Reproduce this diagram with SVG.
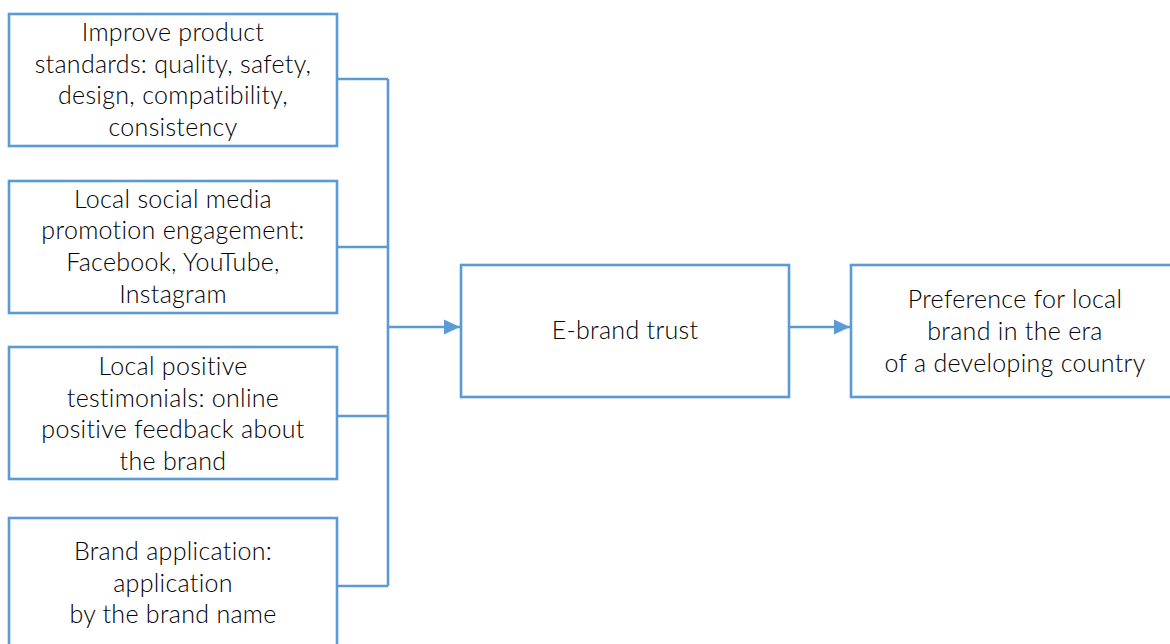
<svg xmlns="http://www.w3.org/2000/svg" width="1170" height="644" viewBox="0 0 1170 644">
<style>
.box{fill:#fff;stroke:#5B9BD5;stroke-width:2.6}
.ln{fill:none;stroke:#5B9BD5;stroke-width:2.6}
text{font-family:Lato,"Open Sans","Liberation Sans",sans-serif;font-weight:300;font-size:25px;letter-spacing:0.3px;fill:#000;text-anchor:middle}
</style>
<defs>
<marker id="ah" markerUnits="userSpaceOnUse" markerWidth="16" markerHeight="16" viewBox="0 0 16 16" refX="16" refY="8" orient="auto">
<path d="M0,0.5 L16,8 L0,15.5 Z" fill="#5B9BD5"/>
</marker>
</defs>
<rect width="1170" height="644" fill="#fff"/>
<g id="connectors">
<path class="ln" d="M337,79 H388 M337,247 H388 M337,416 H388 M337,586 H388 M388,79 V586"/>
<path class="ln" d="M388,327 H460" marker-end="url(#ah)"/>
<path class="ln" d="M789,327 H850" marker-end="url(#ah)"/>
</g>
<g id="n1">
<rect class="box" x="9" y="14" width="328" height="132"/>
<text x="173" y="41">Improve product</text>
<text x="173" y="72.5">standards: quality, safety,</text>
<text x="173" y="104">design, compatibility,</text>
<text x="173" y="135.5">consistency</text>
</g>
<g id="n2">
<rect class="box" x="9" y="181" width="328" height="132"/>
<text x="173" y="207.5">Local social media</text>
<text x="173" y="239">promotion engagement:</text>
<text x="173" y="271">Facebook, YouTube,</text>
<text x="173" y="303">Instagram</text>
</g>
<g id="n3">
<rect class="box" x="9" y="347" width="328" height="132"/>
<text x="173" y="375">Local positive</text>
<text x="173" y="406.5">testimonials: online</text>
<text x="173" y="438">positive feedback about</text>
<text x="173" y="470">the brand</text>
</g>
<g id="n4">
<rect class="box" x="9" y="518" width="328" height="140"/>
<text x="173" y="560">Brand application:</text>
<text x="173" y="591.5">application</text>
<text x="173" y="623">by the brand name</text>
</g>
<g id="n5">
<rect class="box" x="461" y="265" width="328" height="132"/>
<text x="625" y="339">E-brand trust</text>
</g>
<g id="n6">
<rect class="box" x="851" y="265" width="328" height="132"/>
<text x="1015" y="308">Preference for local</text>
<text x="1015" y="340">brand in the era</text>
<text x="1015" y="372">of a developing country</text>
</g>
</svg>
